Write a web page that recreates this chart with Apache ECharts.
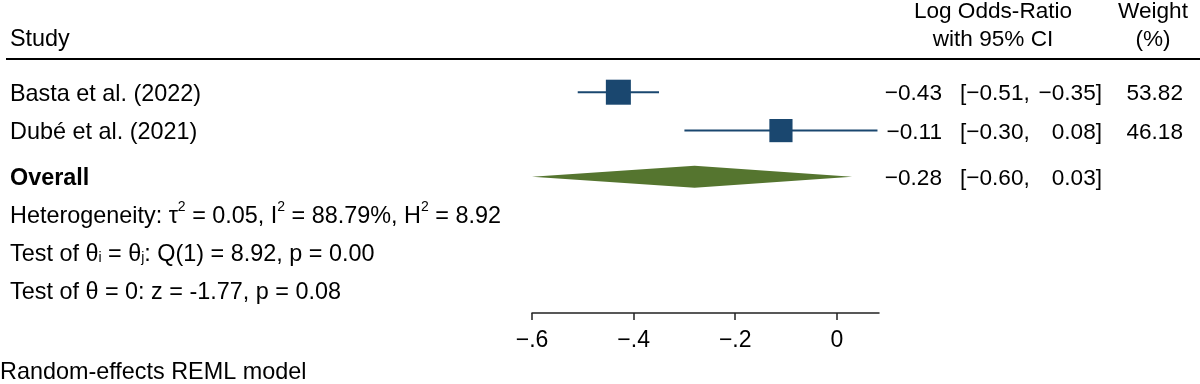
<!DOCTYPE html>
<html><head><meta charset="utf-8">
<script src="https://cdn.jsdelivr.net/npm/echarts@6/dist/echarts.min.js"></script>
<style>html,body{margin:0;padding:0;background:#fff}#c{width:1200px;height:384px}</style>
</head><body><div id="c"></div>
<script>
// ---- data ----
const studies = ['Basta et al. (2022)', 'Dubé et al. (2021)'];
const estimates = [-0.43, -0.11];
const lowerCI = [-0.51, -0.30];
const upperCI = [-0.35, 0.08];
const weights = [53.82, 46.18];
const overallLabel = 'Overall';
const overallEst = -0.28;
const overallLower = -0.60;
const overallUpper = 0.03;
const tickValues = [-0.6, -0.4, -0.2, 0];
const tickLabels = ['−.6', '−.4', '−.2', '0'];
const headerStudy = 'Study';
const headerEffect = ['Log Odds-Ratio', 'with 95% CI'];
const headerWeight = ['Weight', '(%)'];
const statLines = [
  'Heterogeneity: τ{sup|2} = 0.05, I{sup|2} = 88.79%, H{sup|2} = 8.92',
  'Test of θ{sub|i} = θ{sub|j}: Q(1) = 8.92, p = 0.00',
  'Test of θ = 0: z = -1.77, p = 0.08'
];
const footnote = 'Random-effects REML model';

// ---- style ----
const FONT = '"Liberation Sans", Arial, Helvetica, sans-serif';
const FS = 23.4;   // left text
const FSR = 22.6;  // right columns
const NAVY = '#1A476F';
const GREEN = '#55752F';
const TXT = '#000';

const fmt = v => (v < 0 ? '−' : '') + Math.abs(v).toFixed(2);

const studyRows = studies.map((s, i) => i + 0.5);
const overallRow = studies.length + 0.7;

const chart = echarts.init(document.getElementById('c'), null, {renderer: 'canvas'});

const studyData = studies.map((s, i) => [estimates[i], lowerCI[i], upperCI[i], studyRows[i], weights[i]]);
const overallData = [[overallEst, overallLower, overallUpper, overallRow]];

chart.setOption({
  animation: false,
  backgroundColor: '#fff',
  grid: {left: 532, right: 321, top: 73, bottom: 71},
  xAxis: {
    type: 'value', min: -0.6, max: 0.083, position: 'bottom',
    splitLine: {show: false},
    axisLine: {show: true, onZero: false, lineStyle: {color: '#222', width: 1.5}},
    axisTick: {show: true, length: 7, lineStyle: {color: '#222', width: 1.5}, customValues: tickValues},
    axisLabel: {
      customValues: tickValues, margin: 16,
      formatter: v => { const i = tickValues.findIndex(t => Math.abs(t - v) < 1e-9); return i >= 0 ? tickLabels[i] : ''; },
      color: TXT, fontSize: 23, fontFamily: FONT
    }
  },
  yAxis: {type: 'value', min: 0, max: 6.25, inverse: true, show: false},
  series: [
    {
      type: 'custom', data: studyData, encode: {x: [0, 1, 2], y: 3},
      renderItem: (params, api) => {
        const y = api.coord([0, api.value(3)])[1];
        const xe = api.coord([api.value(0), 0])[0];
        const xl = api.coord([api.value(1), 0])[0];
        const xu = api.coord([api.value(2), 0])[0];
        const s = Math.sqrt(api.value(4)) * 3.41;
        return {type: 'group', children: [
          {type: 'line', shape: {x1: xl, y1: y, x2: xu, y2: y}, style: {stroke: NAVY, lineWidth: 2}},
          {type: 'rect', shape: {x: xe - s / 2, y: y - s / 2, width: s, height: s}, style: {fill: NAVY}}
        ]};
      }
    },
    {
      type: 'custom', data: overallData, encode: {x: [0, 1, 2], y: 3},
      renderItem: (params, api) => {
        const y = api.coord([0, api.value(3)])[1];
        const xe = api.coord([api.value(0), 0])[0];
        const xl = api.coord([api.value(1), 0])[0];
        const xu = api.coord([api.value(2), 0])[0];
        const h = 11;
        return {type: 'polygon', shape: {points: [[xl, y], [xe, y - h], [xu, y], [xe, y + h]]}, style: {fill: GREEN}};
      }
    }
  ]
});

// ---- text table ----
function txt(text, x, y, align, extra) {
  return {
    type: 'text', x: x, y: y, silent: true,
    style: Object.assign({text: text, fill: TXT, fontSize: FS, fontFamily: FONT,
      align: align, verticalAlign: 'middle', textAlign: align, textVerticalAlign: 'middle'}, extra || {})
  };
}
const R = {fontSize: FSR};
const rowPx = r => chart.convertToPixel({yAxisIndex: 0}, r) + 2;
const g = [];
g.push({type: 'line', shape: {x1: 6, y1: 59, x2: 1200, y2: 59}, style: {stroke: '#000', lineWidth: 2}, silent: true});
g.push(txt(headerStudy, 10, 40, 'left'));
g.push(txt(headerEffect[0], 993, 12, 'center', R));
g.push(txt(headerEffect[1], 993, 40, 'center', R));
g.push(txt(headerWeight[0], 1153, 12, 'center', R));
g.push(txt(headerWeight[1], 1153, 40, 'center', R));
studies.forEach((s, i) => {
  const y = rowPx(studyRows[i]);
  g.push(txt(s, 10, y, 'left'));
  g.push(txt(fmt(estimates[i]), 942, y, 'right', R));
  g.push(txt('[' + fmt(lowerCI[i]) + ',', 960, y, 'left', R));
  g.push(txt(fmt(upperCI[i]) + ']', 1102, y, 'right', R));
  g.push(txt(weights[i].toFixed(2), 1183, y, 'right', R));
});
{
  const y = rowPx(overallRow);
  g.push(txt(overallLabel, 10, y, 'left', {fontWeight: 'bold'}));
  g.push(txt(fmt(overallEst), 942, y, 'right', R));
  g.push(txt('[' + fmt(overallLower) + ',', 960, y, 'left', R));
  g.push(txt(fmt(overallUpper) + ']', 1102, y, 'right', R));
}
const rich = {
  n: {fontSize: FS, fontFamily: FONT, fill: TXT, lineHeight: 32},
  sup: {fontSize: 14, fontFamily: FONT, fill: TXT, lineHeight: 14, verticalAlign: 'top'},
  sub: {fontSize: 14, fontFamily: FONT, fill: TXT, lineHeight: 14, verticalAlign: 'bottom', padding: [0, 0, 5, 0]}
};
statLines.forEach((s, i) => {
  const y = 216.5 + i * 38;
  const t = s.split(/(\{su[pb]\|[^}]*\})/).filter(Boolean).map(p => p.startsWith('{') ? p : '{n|' + p + '}').join('');
  g.push(txt(t, 10, y, 'left', {rich: rich, lineHeight: 32}));
});
g.push(txt(footnote, 0, 373, 'left'));
chart.setOption({graphic: {elements: g}});
</script></body></html>
